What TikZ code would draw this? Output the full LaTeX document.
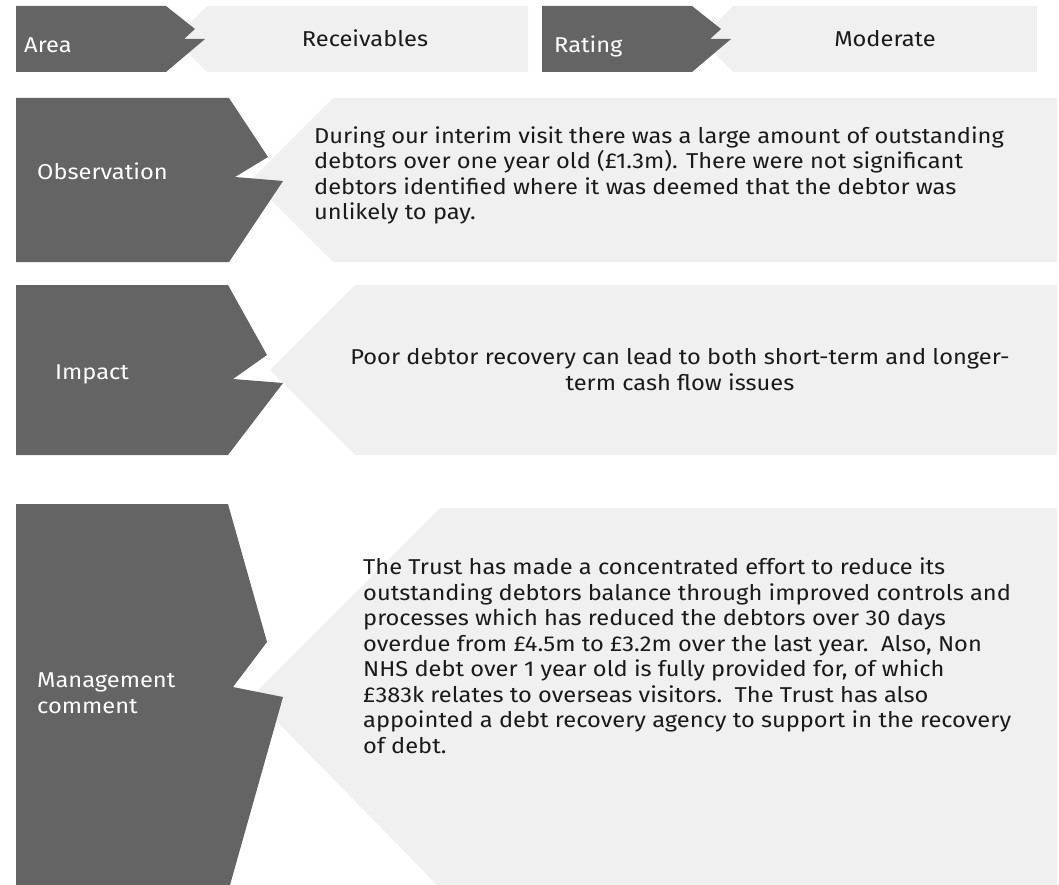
\documentclass[tikz,border=0pt]{standalone}
\usepackage{fontspec}
\setmainfont{Fira Sans}[FakeStretch=1.1]
\definecolor{dk}{HTML}{646464}
\definecolor{lt}{HTML}{F0F0F0}
\definecolor{ink}{HTML}{1A1A1A}
\begin{document}
\begin{tikzpicture}[x=1pt,y=-1pt,
  darkshape/.style={fill=dk,draw=none},
  lightshape/.style={fill=lt,draw=none},
  lbl/.style={text=white,inner sep=0pt,font=\fontsize{21.5}{25.5}\selectfont,align=left},
  body/.style={text=ink,inner sep=0pt,font=\fontsize{21.5}{25.5}\selectfont},
]
\useasboundingbox (0,0) rectangle (1059,885);
% top row
\fill[lightshape] (207,6) -- (528,6) -- (528,72) -- (207,72) -- (174,39) -- cycle;
\fill[darkshape] (16,6) -- (166,6) -- (195,29) -- (184,39) -- (205,39) -- (166,72) -- (16,72) -- cycle;
\fill[lightshape] (733,6) -- (1037,6) -- (1037,72) -- (733,72) -- (700,39) -- cycle;
\fill[darkshape] (542,6) -- (692,6) -- (721,29) -- (710,39) -- (731,39) -- (692,72) -- (542,72) -- cycle;
\node[lbl,anchor=base west] (area) at (24,53) {Area};
\node[body,anchor=base] (recv) at (365,47) {Receivables};
\node[lbl,anchor=base west] (rating) at (554,53) {Rating};
\node[body,anchor=base] (moder) at (885,47) {Moderate};
% observation
\fill[lightshape] (333,98) -- (1057,98) -- (1057,262) -- (333,262) -- (251,180) -- cycle;
\fill[darkshape] (16,98) -- (229,98) -- (268,157) -- (235,177) -- (283,181) -- (229,262) -- (16,262) -- cycle;
\node[lbl,anchor=base west] (obs) at (37,180) {Observation};
\node[body,anchor=base west,align=left] (obstext) at (314,220) {During our interim visit there was a large amount of outstanding\\debtors over one year old (£1.3m). There were not significant\\debtors identified where it was deemed that the debtor was\\unlikely to pay.};
% impact
\fill[lightshape] (355,285) -- (1057,285) -- (1057,455) -- (355,455) -- (270,370) -- cycle;
\fill[darkshape] (16,285) -- (228,285) -- (267,355) -- (233,379) -- (283,383) -- (228,455) -- (16,455) -- cycle;
\node[lbl,anchor=base west] (imp) at (55,379) {Impact};
\node[body,anchor=base,align=center] (imptext) at (680,390) {Poor debtor recovery can lead to both short-term and longer-\\term cash flow issues};
% management comment
\fill[lightshape] (440,508) -- (1057,508) -- (1057,885) -- (437,885) -- (252,696) -- cycle;
\fill[darkshape] (16,504) -- (228,504) -- (267,642) -- (233,687) -- (283,697) -- (230,885) -- (16,885) -- cycle;
\node[lbl,anchor=base west] (mgmt) at (37,713) {Management\\comment};
\node[body,anchor=base west,align=left] (mgmttext) at (363,753) {The Trust has made a concentrated effort to reduce its\\outstanding debtors balance through improved controls and\\processes which has reduced the debtors over 30 days\\overdue from £4.5m to £3.2m over the last year.\ \ Also, Non\\NHS debt over 1 year old is fully provided for, of which\\£383k relates to overseas visitors.\ \ The Trust has also\\appointed a debt recovery agency to support in the recovery\\of debt.};
\end{tikzpicture}
\end{document}
